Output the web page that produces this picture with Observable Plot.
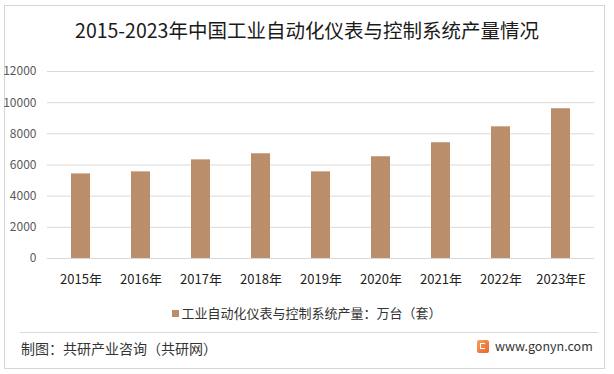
<!DOCTYPE html>
<html>
<head>
<meta charset="utf-8">
<script src="https://cdn.jsdelivr.net/npm/d3@7"></script>
<script src="https://cdn.jsdelivr.net/npm/@observablehq/plot@0.6"></script>
<style>
  html, body { margin: 0; padding: 0; background: #fff; }
  body { font-family: "Noto Sans CJK SC", "Noto Sans", sans-serif; }
  #wrap { position: relative; width: 614px; height: 374px; overflow: hidden; background: #fff; }
  #frame { position: absolute; left: 4px; top: 5px; width: 601px; height: 364px; border: 1px solid #d6d6d6; box-sizing: border-box; }
  #title { position: absolute; left: 0; top: 17px; width: 614px; text-align: center; font-size: 19.5px; color: #1a1a1a; line-height: 26px; }
  #chart { position: absolute; left: 0; top: 60px; }
  #legend { position: absolute; left: 0; top: 303px; width: 614px; text-align: center; font-size: 13px; color: #333; line-height: 20px; }
  #legend .sw { display: inline-block; width: 7px; height: 7px; background: #BB8E6B; margin-right: 2px; vertical-align: 1px; }
  #sep { position: absolute; left: 20px; top: 332px; width: 578px; height: 1px; background: #d9d9d9; }
  #src { position: absolute; left: 21px; top: 337px; font-size: 14px; color: #333; line-height: 22px; }
  #site { position: absolute; left: 477px; top: 336px; font-size: 12.5px; color: #333; line-height: 20px; }
  #logo { display: inline-block; width: 12px; height: 13px; background: linear-gradient(135deg, #f7a35c, #e8632b); border-radius: 2px; vertical-align: -2px; margin-right: 6px; position: relative; }
  #logo::after { content: ""; position: absolute; left: 3px; top: 3px; width: 5px; height: 6px; border: 1.5px solid #fff; border-right: none; box-sizing: border-box; }
</style>
</head>
<body>
<div id="wrap">
  <div id="frame"></div>
  <div id="title"></div>
  <div id="chart"></div>
  <div id="legend"></div>
  <div id="sep"></div>
  <div id="src"></div>
  <div id="site"><span id="logo"></span>www.gonyn.com</div>
</div>
<script>
const titleText = "2015-2023年中国工业自动化仪表与控制系统产量情况";
const years = ["2015年", "2016年", "2017年", "2018年", "2019年", "2020年", "2021年", "2022年", "2023年E"];
const output = [5430, 5560, 6330, 6720, 5560, 6530, 7430, 8450, 9610];
const yTicks = [0, 2000, 4000, 6000, 8000, 10000, 12000];
const seriesName = "工业自动化仪表与控制系统产量：万台（套）";
const sourceText = "制图：共研产业咨询（共研网）";

const data = years.map((y, i) => ({year: y, value: output[i]}));

document.getElementById("title").textContent = titleText;
document.getElementById("legend").innerHTML = '<span class="sw"></span>' + seriesName;
document.getElementById("src").textContent = sourceText;

const chart = Plot.plot({
  width: 614,
  height: 240,
  marginTop: 11,
  marginBottom: 42,
  marginLeft: 47,
  marginRight: 20,
  style: {fontFamily: '"Noto Sans CJK SC", "Noto Sans", sans-serif', background: "transparent"},
  x: {domain: years, paddingInner: 0.69, paddingOuter: 0.345, label: null},
  y: {domain: [0, 12000], label: null},
  marks: [
    Plot.gridY(yTicks, {stroke: "#d9d9d9", strokeOpacity: 1, strokeWidth: 1}),
    Plot.barY(data, {x: "year", y: "value", fill: "#BB8E6B"}),
    Plot.axisY(yTicks, {tickSize: 0, tickPadding: 11, fontSize: 12, fill: "#595959", tickFormat: d => String(d), label: null}),
    Plot.axisX({tickSize: 0, tickPadding: 16, fontSize: 13, fill: "#222", label: null})
  ]
});
document.getElementById("chart").appendChild(chart);
</script>
</body>
</html>
